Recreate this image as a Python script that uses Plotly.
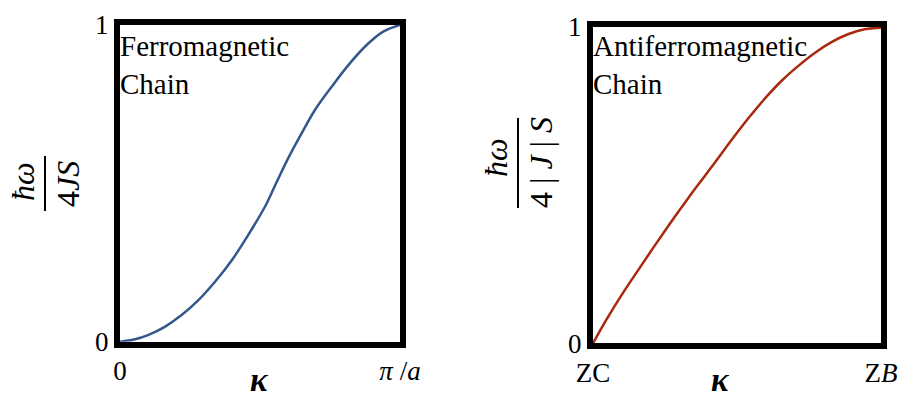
import plotly.graph_objects as go

# Ferromagnetic chain dispersion, kappa in units of pi/a
ferro_k = [0, 0.05, 0.1, 0.16, 0.22, 0.28, 0.34, 0.4, 0.46, 0.52, 0.56, 0.6, 0.65, 0.7, 0.76, 0.82, 0.88, 0.94, 1.0]
ferro_w = [0, 0.007, 0.021, 0.047, 0.084, 0.131, 0.19, 0.258, 0.34, 0.43, 0.505, 0.578, 0.66, 0.737, 0.81, 0.878, 0.936, 0.979, 1.0]

# Antiferromagnetic chain dispersion, ZC -> ZB
afm_k = [0, 0.046, 0.103, 0.161, 0.219, 0.276, 0.333, 0.385, 0.426, 0.483, 0.54, 0.598, 0.655, 0.713, 0.77, 0.828, 0.885, 0.943, 1.0]
afm_w = [0, 0.074, 0.158, 0.237, 0.315, 0.39, 0.462, 0.525, 0.575, 0.645, 0.712, 0.775, 0.83, 0.877, 0.918, 0.952, 0.977, 0.993, 0.998]

y_ticks = [0, 1]
y_tick_text = ["0", "1"]
x_ticks = [0, 1]
ferro_x_text = ["0", "<i>π</i> /<i>a</i>"]
afm_x_text = ["ZC", "Z<i>B</i>"]

SERIF = "Liberation Serif, Times New Roman, serif"
W, H = 901, 399

fig = go.Figure()
fig.add_trace(go.Scatter(x=ferro_k, y=ferro_w, mode="lines", line=dict(color="#34578c", width=2.5, shape="spline"),
                         xaxis="x", yaxis="y", showlegend=False, hoverinfo="skip"))
fig.add_trace(go.Scatter(x=afm_k, y=afm_w, mode="lines", line=dict(color="#a8290e", width=2.5, shape="spline"),
                         xaxis="x2", yaxis="y2", showlegend=False, hoverinfo="skip"))

axis_common = dict(range=[0, 1], showgrid=False, zeroline=False, showline=True, linecolor="black",
                   linewidth=6, mirror=True, ticks="", automargin=False, ticklabeloverflow="allow",
                   tickfont=dict(family=SERIF, size=27, color="black"), fixedrange=True)

def px_x(p):
    return p / W

def px_y(p):
    return (H - p) / H

fig.update_layout(
    width=W, height=H, margin=dict(l=0, r=0, t=0, b=0, autoexpand=False),
    paper_bgcolor="white", plot_bgcolor="white",
    xaxis=dict(domain=[px_x(120), px_x(400)], anchor="y", tickvals=x_ticks, ticktext=ferro_x_text, **axis_common),
    yaxis=dict(domain=[px_y(341.7), px_y(25)], anchor="x", tickvals=y_ticks, ticktext=y_tick_text, **axis_common),
    xaxis2=dict(domain=[px_x(593), px_x(881)], anchor="y2", tickvals=x_ticks, ticktext=afm_x_text, **axis_common),
    yaxis2=dict(domain=[px_y(343.3), px_y(27)], anchor="x2", tickvals=y_ticks, ticktext=y_tick_text, **axis_common),
)

ann_font = dict(family=SERIF, size=29, color="black")
frac_font = dict(family=SERIF, size=32, color="black")
kappa_font = dict(family=SERIF, size=33, color="black")
annotations = [
    dict(text="Ferromagnetic<br>Chain", x=px_x(118), y=px_y(28), xref="paper", yref="paper",
         xanchor="left", yanchor="top", align="left", showarrow=False, font=ann_font),
    dict(text="Antiferromagnetic<br>Chain", x=px_x(591), y=px_y(28), xref="paper", yref="paper",
         xanchor="left", yanchor="top", align="left", showarrow=False, font=ann_font),
    # y titles (fractions, rotated)
    dict(text="<i>ħω</i>", x=px_x(23), y=px_y(182), xref="paper", yref="paper", textangle=-90,
         xanchor="center", yanchor="middle", showarrow=False, font=frac_font),
    dict(text="4<i>JS</i>", x=px_x(68), y=px_y(184), xref="paper", yref="paper", textangle=-90,
         xanchor="center", yanchor="middle", showarrow=False, font=frac_font),
    dict(text="<i>ħω</i>", x=px_x(496), y=px_y(158), xref="paper", yref="paper", textangle=-90,
         xanchor="center", yanchor="middle", showarrow=False, font=frac_font),
    dict(text="4 | <i>J</i> | <i>S</i>", x=px_x(541), y=px_y(163), xref="paper", yref="paper", textangle=-90,
         xanchor="center", yanchor="middle", showarrow=False, font=frac_font),
    # x titles
    dict(text="<b><i>κ</i></b>", x=px_x(259), y=0, xref="paper", yref="paper",
         xanchor="center", yanchor="bottom", showarrow=False, font=kappa_font, borderpad=0),
    dict(text="<b><i>κ</i></b>", x=px_x(720), y=0, xref="paper", yref="paper",
         xanchor="center", yanchor="bottom", showarrow=False, font=kappa_font, borderpad=0),
]
fig.update_layout(annotations=annotations)

fig.update_layout(shapes=[
    dict(type="line", xref="paper", yref="paper", x0=px_x(45), x1=px_x(45), y0=px_y(156), y1=px_y(211),
         line=dict(color="black", width=2)),
    dict(type="line", xref="paper", yref="paper", x0=px_x(518), x1=px_x(518), y0=px_y(118), y1=px_y(208),
         line=dict(color="black", width=2)),
])

fig.write_html("out.html")
